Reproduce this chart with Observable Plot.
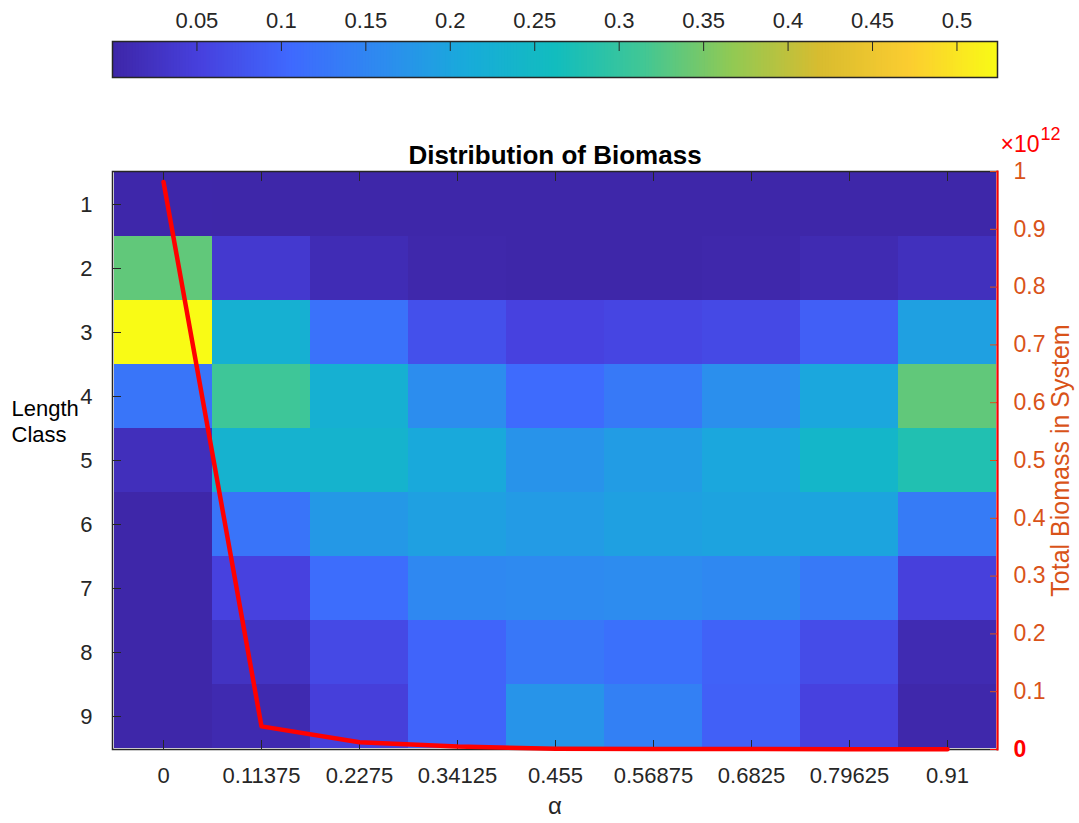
<!DOCTYPE html>
<html>
<head>
<meta charset="utf-8">
<script src="https://cdn.jsdelivr.net/npm/d3@7"></script>
<script src="https://cdn.jsdelivr.net/npm/@observablehq/plot@0.6"></script>
<style>
  html, body { margin: 0; padding: 0; background: #fff; overflow: hidden; }
  #cbar { width: 1079px; height: 100px; }
  #main { position: relative; width: 1079px; height: 723px; }
  #main svg { position: absolute; left: 0; top: 0; }
</style>
</head>
<body>
<div id="cbar"></div>
<div id="main"></div>
<script>
// ---- data ----
const alphaLabels = ["0", "0.11375", "0.2275", "0.34125", "0.455", "0.56875", "0.6825", "0.79625", "0.91"];
const lengthClasses = ["1", "2", "3", "4", "5", "6", "7", "8", "9"];
// share of biomass per length class (rows) for each alpha (columns)
const class1 = [0.002, 0.001, 0.001, 0.001, 0.001, 0.001, 0.001, 0.001, 0.001];
const class2 = [0.335, 0.037, 0.012, 0.003, 0.001, 0.001, 0.003, 0.010, 0.020];
const class3 = [0.524, 0.224, 0.119, 0.072, 0.053, 0.057, 0.063, 0.092, 0.192];
const class4 = [0.124, 0.310, 0.224, 0.162, 0.108, 0.130, 0.165, 0.203, 0.335];
const class5 = [0.018, 0.230, 0.233, 0.207, 0.171, 0.186, 0.203, 0.242, 0.278];
const class6 = [0.001, 0.122, 0.180, 0.192, 0.184, 0.192, 0.197, 0.199, 0.133];
const class7 = [0.001, 0.053, 0.111, 0.154, 0.157, 0.160, 0.154, 0.130, 0.050];
const class8 = [0.001, 0.025, 0.063, 0.098, 0.127, 0.116, 0.095, 0.067, 0.010];
const class9 = [0.001, 0.008, 0.048, 0.098, 0.173, 0.141, 0.093, 0.053, 0.003];
const shareRows = [class1, class2, class3, class4, class5, class6, class7, class8, class9];
// total biomass in system, in units of 1e12
const totalBiomass = [0.982, 0.040, 0.0125, 0.005, 0.0015, 0.001, 0.0007, 0.0005, 0.0004];
const colorTicks = [0.05, 0.1, 0.15, 0.2, 0.25, 0.3, 0.35, 0.4, 0.45, 0.5];
const biomassTicks = [0.1, 0.2, 0.3, 0.4, 0.5, 0.6, 0.7, 0.8, 0.9, 1];
const colorMax = 0.524;

// ---- style ----
const parula = ["#3e26a8", "#4741df", "#3f69fe", "#2e8af0", "#18abda", "#12bdbe",
                "#42c794", "#92c953", "#d9bc2f", "#fbcd30", "#f9fb15"];
const colorScale = {
  type: "linear",
  domain: parula.map((_, i) => colorMax * i / (parula.length - 1)),
  range: parula,
  interpolate: "rgb",
  clamp: true
};
const font = "'Liberation Sans', Arial, Helvetica, sans-serif";
const axisColor = "#262626";
const orange = "#D95319";

// ---- tables ----
const cells = [];
lengthClasses.forEach((c, i) => alphaLabels.forEach((a, j) => cells.push({cls: c, alpha: a, v: shareRows[i][j]})));
const lineData = alphaLabels.map((a, i) => ({alpha: a, b: totalBiomass[i]}));

// ---- colorbar ----
const step = colorMax / 300;
const samples = d3.range(0, colorMax, step);
const cbar = Plot.plot({
  width: 1079, height: 100,
  marginTop: 41, marginBottom: 23, marginLeft: 112, marginRight: 82,
  style: {fontFamily: font, fontSize: "22px", color: axisColor, background: "transparent"},
  x: {domain: [0, colorMax]},
  color: colorScale,
  marks: [
    Plot.rect(samples, {x1: d => d, x2: d => Math.min(colorMax, d + step * 1.5), fill: d => d}),
    Plot.axisX(colorTicks, {anchor: "top", tickSize: -9, tickPadding: 23, tickFormat: d3.format("~g"), stroke: axisColor, fill: axisColor}),
    Plot.frame({stroke: axisColor, strokeWidth: 1.5})
  ]
});
document.getElementById("cbar").appendChild(cbar);

// ---- heatmap ----
const heat = Plot.plot({
  width: 1079, height: 723,
  marginTop: 71, marginBottom: 74, marginLeft: 112, marginRight: 82,
  style: {fontFamily: font, fontSize: "22px", color: axisColor, background: "transparent"},
  x: {domain: alphaLabels, padding: 0},
  y: {domain: lengthClasses, padding: 0},
  color: colorScale,
  marks: [
    Plot.cell(cells, {x: "alpha", y: "cls", fill: "v", inset: 0, shapeRendering: "crispEdges"}),
    Plot.frame({stroke: axisColor, strokeWidth: 1.5}),
    Plot.axisX({anchor: "bottom", tickSize: -9, tickPadding: 27, stroke: axisColor, fill: axisColor, label: null}),
    Plot.axisX({anchor: "top", tickSize: -9, tickFormat: () => "", stroke: axisColor, label: null}),
    Plot.axisY({anchor: "left", tickSize: -9, tickPadding: 29, stroke: axisColor, fill: axisColor, label: null}),
    Plot.text(["Distribution of Biomass"], {frameAnchor: "top", dy: -8, lineAnchor: "bottom", fontWeight: "bold", fontSize: 26, fill: "#000"}),
    Plot.text(["Length\nClass"], {frameAnchor: "left", dx: -101, dy: -19, textAnchor: "start", lineAnchor: "bottom", lineHeight: 1.18, fontSize: 22, fill: "#000"}),
    Plot.text(["α"], {frameAnchor: "bottom", dy: 64, lineAnchor: "bottom", fontSize: 24, fill: axisColor})
  ]
});
document.getElementById("main").appendChild(heat);

// ---- total biomass overlay (right axis) ----
const over = Plot.plot({
  width: 1079, height: 723,
  marginTop: 71, marginBottom: 74, marginLeft: 112, marginRight: 82,
  style: {fontFamily: font, fontSize: "23px", color: orange, background: "transparent"},
  x: {domain: alphaLabels, type: "point", padding: 0.5, axis: null},
  y: {domain: [0, 1]},
  marks: [
    Plot.line(lineData, {x: "alpha", y: "b", stroke: "#ff0000", strokeWidth: 4.5, strokeLinejoin: "round"}),
    Plot.axisY(biomassTicks, {anchor: "right", tickSize: -8, tickPadding: 24, tickFormat: d3.format("~g"), stroke: orange, fill: orange, label: null}),
    Plot.axisY([0], {anchor: "right", tickSize: -8, tickPadding: 24, tickFormat: d3.format("~g"), stroke: "#ff0000", fill: "#ff0000", fontWeight: "bold", label: null}),
    Plot.frame({anchor: "right", stroke: "#ff0000", strokeWidth: 2}),
    Plot.text(["×10"], {frameAnchor: "top-right", dx: 3, dy: -20, textAnchor: "start", lineAnchor: "bottom", fontSize: 23, fill: "#ff0000"}),
    Plot.text(["12"], {frameAnchor: "top-right", dx: 43, dy: -32, textAnchor: "start", lineAnchor: "bottom", fontSize: 18, fill: "#ff0000"}),
    Plot.text(["Total Biomass in System"], {frameAnchor: "right", dx: 63, rotate: -90, textAnchor: "middle", lineAnchor: "middle", fontSize: 25, fill: orange})
  ]
});
document.getElementById("main").appendChild(over);
</script>
</body>
</html>
